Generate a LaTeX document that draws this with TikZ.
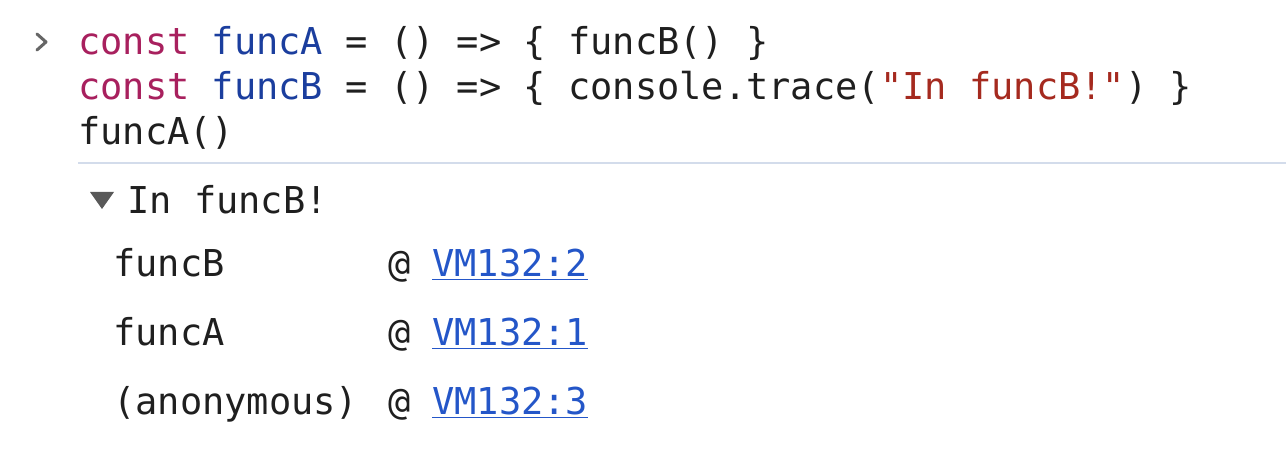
\documentclass[tikz,border=0pt]{standalone}
\usepackage{fontspec}
\setmonofont{DejaVu Sans Mono}
\definecolor{kw}{HTML}{A8205E}
\definecolor{fn}{HTML}{1B3E9E}
\definecolor{str}{HTML}{A52A1F}
\definecolor{lnk}{HTML}{2456C8}
\definecolor{txt}{HTML}{1F1F1F}
\definecolor{sep}{HTML}{D3DCEB}
\begin{document}
\begin{tikzpicture}[x=1pt,y=-1pt,
  code/.style={anchor=base west,inner sep=0pt,text=txt,font=\ttfamily\fontsize{37}{45}\selectfont},
  lnkstyle/.style={code,text=lnk}]
\useasboundingbox[fill=white] (0,0) rectangle (1286,454);
\draw[line width=3pt,color=gray!80!black,line cap=round,line join=round] (37,34) -- (46,42) -- (37,50);
\node[code] (l1) at (78,55) {\textcolor{kw}{const} \textcolor{fn}{funcA} = () => \{ funcB() \}};
\node[code] (l2) at (78,100) {\textcolor{kw}{const} \textcolor{fn}{funcB} = () => \{ console.trace(\textcolor{str}{"In funcB!"}) \}};
\node[code] (l3) at (78,145) {funcA()};
\draw[sep,line width=2pt] (78,163) -- (1286,163);
\fill[gray!70!black] (90,192) -- (114,192) -- (102,209) -- cycle;
\node[code] (h) at (127,214) {In funcB!};
\node[code] (s1) at (113,277) {funcB};
\node[code] (a1) at (388,277) {@};
\node[lnkstyle] (v1) at (432,277) {\underline{VM132:2}};
\node[code] (s2) at (113,346) {funcA};
\node[code] (a2) at (388,346) {@};
\node[lnkstyle] (v2) at (432,346) {\underline{VM132:1}};
\node[code] (s3) at (113,415) {(anonymous)};
\node[code] (a3) at (388,415) {@};
\node[lnkstyle] (v3) at (432,415) {\underline{VM132:3}};
\end{tikzpicture}
\end{document}
